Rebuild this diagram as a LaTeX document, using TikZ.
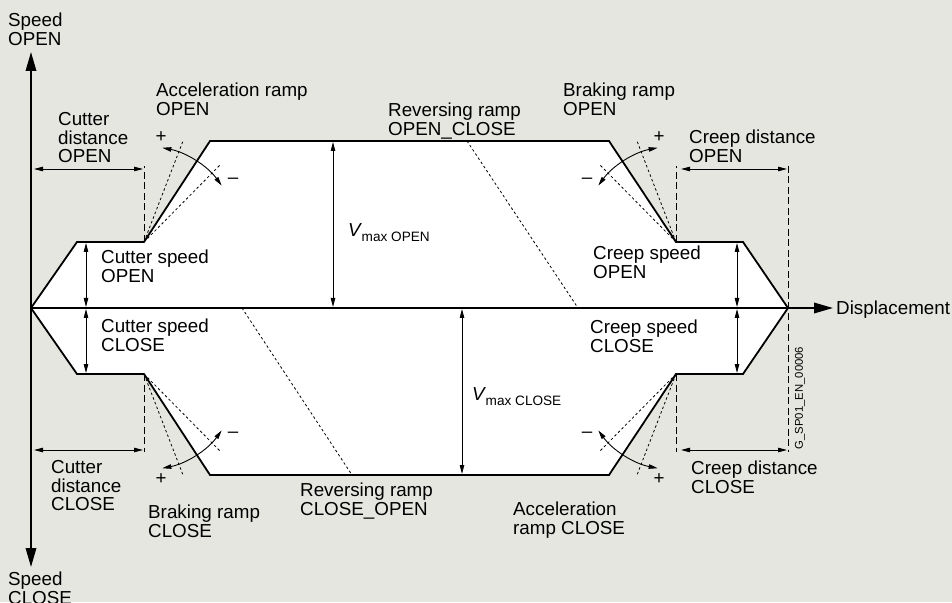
\documentclass[tikz,border=0pt]{standalone}
\usepackage{fontspec}
\setmainfont{Liberation Sans}
\usepackage{tikz}
\usetikzlibrary{arrows.meta, calc}
\definecolor{bggray}{RGB}{230,230,225}
\newcommand{\lbfont}{\fontsize{18.8}{18.8}\selectfont}
\newcommand{\subfont}{\fontsize{13.6}{13.6}\selectfont}

% ramp marks: two dotted alternatives and the +/- arc, pivot at origin
\newcommand{\rampmarks}[1]{%
  \begin{scope}[#1]
    \draw[fine] (0,0) -- (39,101);
    \draw[fine] (0,0) -- (77,78);
    \draw[ramparc] (79:96) arc (79:36:96);
    \node[sign] at (17,105) {+};
    \node[sign] at (89,61) {–};
  \end{scope}}

\begin{document}
\begin{tikzpicture}[x=1pt, y=1pt,
  bigtri/.tip={Triangle[length=19pt, width=10.5pt]},
  smalltri/.tip={Triangle[length=9pt, width=4.5pt]},
  lbl/.style={anchor=north west, inner sep=0pt, align=left, font=\lbfont},
  sign/.style={inner sep=0pt, font=\lbfont},
  profile/.style={line width=1.8pt, line join=miter},
  axis/.style={line width=1.8pt},
  dim/.style={line width=0.9pt, smalltri-smalltri},
  ramparc/.style={line width=0.9pt, smalltri-smalltri},
  guide/.style={line width=0.9pt, dash pattern=on 7pt off 3.5pt},
  fine/.style={line width=0.8pt, dash pattern=on 2.5pt off 2.5pt}]

% background
\fill[bggray] (-31,-294) rectangle (921,308);
\useasboundingbox (-31,-294) rectangle (921,308);

% profile corners
\coordinate (o) at (0,0);
\coordinate (u1) at (46,66);
\coordinate (u2) at (113,66);
\coordinate (u3) at (179,167);
\coordinate (u4) at (578,167);
\coordinate (u5) at (645,66);
\coordinate (u6) at (712,66);
\coordinate (e) at (757,0);
\coordinate (l1) at (46,-66);
\coordinate (l2) at (113,-66);
\coordinate (l3) at (179,-167);
\coordinate (l4) at (578,-167);
\coordinate (l5) at (645,-66);
\coordinate (l6) at (712,-66);

% travel profile OPEN / CLOSE
\filldraw[profile, fill=white] (o) -- (u1) -- (u2) -- (u3) -- (u4) -- (u5) -- (u6)
  -- (e) -- (l6) -- (l5) -- (l4) -- (l3) -- (l2) -- (l1) -- cycle;

% axes
\draw[axis, bigtri-bigtri] (0,-259) -- (0,256);
\draw[axis, -bigtri] (o) -- (802,0);

% reversing ramps
\draw[fine] (436,167) -- (547,0);
\draw[fine] (211,0) -- (321,-167);

% guide lines for the distances
\draw[guide] (u2) -- (113,142);
\draw[guide] (u5) -- (645,142);
\draw[guide] (757,142) -- (757,-144);
\draw[guide] (l2) -- (113,-144);
\draw[guide] (l5) -- (645,-144);

% distances
\draw[dim] (3,139) -- (112,139);
\draw[dim] (650,139) -- (756,139);
\draw[dim] (3,-142) -- (112,-142);
\draw[dim] (650,-142) -- (756,-142);

% speeds
\draw[dim] (55,1) -- (55,65);
\draw[dim] (55,-1) -- (55,-65);
\draw[dim] (302,1) -- (302,166);
\draw[dim] (431,-1) -- (431,-166);
\draw[dim] (706,1) -- (706,65);
\draw[dim] (706,-1) -- (706,-65);

% ramp adjustment marks
\rampmarks{shift={(u2)}}
\rampmarks{shift={(u5)}, xscale=-1}
\rampmarks{shift={(l2)}, yscale=-1}
\rampmarks{shift={(l5)}, xscale=-1, yscale=-1}

% labels
\node[lbl] (spdopen) at (-23,295) {Speed\\OPEN};
\node[lbl] (spdclose) at (-23,-264) {Speed\\CLOSE};
\node[anchor=base west, inner sep=0pt, font=\lbfont] (displ) at (805,-7) {Displacement};
\node[lbl] (accopen) at (125,225) {Acceleration ramp\\OPEN};
\node[lbl] (cutdopen) at (27,196) {Cutter\\distance\\OPEN};
\node[lbl] (revopen) at (357,205) {Reversing ramp\\OPEN\_CLOSE};
\node[lbl] (brkopen) at (532,225) {Braking ramp\\OPEN};
\node[lbl] (crpdopen) at (658,178) {Creep distance\\OPEN};
\node[lbl] (cutsopen) at (70,58) {Cutter speed\\OPEN};
\node[lbl] (crpsopen) at (562,62) {Creep speed\\OPEN};
\node[lbl] (cutsclose) at (70,-11) {Cutter speed\\CLOSE};
\node[lbl] (crpsclose) at (559,-12) {Creep speed\\CLOSE};
\node[lbl] (cutdclose) at (20,-152) {Cutter\\distance\\CLOSE};
\node[lbl] (brkclose) at (117,-197) {Braking ramp\\CLOSE};
\node[lbl] (revclose) at (269,-175) {Reversing ramp\\CLOSE\_OPEN};
\node[lbl] (accclose) at (482,-194) {Acceleration\\ramp CLOSE};
\node[lbl] (crpdclose) at (660,-153) {Creep distance\\CLOSE};
\node[anchor=base west, inner sep=0pt] (vmaxopen) at (317,71)
  {{\lbfont\itshape V}\kern1pt\raisebox{-5pt}{\subfont max OPEN}};
\node[anchor=base west, inner sep=0pt] (vmaxclose) at (441,-92)
  {{\lbfont\itshape V}\kern1pt\raisebox{-5pt}{\subfont max CLOSE}};
\node[rotate=90, inner sep=0pt, font=\fontsize{11.3}{11.3}\selectfont] (docid) at (769,-90)
  {G\_SP01\_EN\_00006};
\end{tikzpicture}
\end{document}
